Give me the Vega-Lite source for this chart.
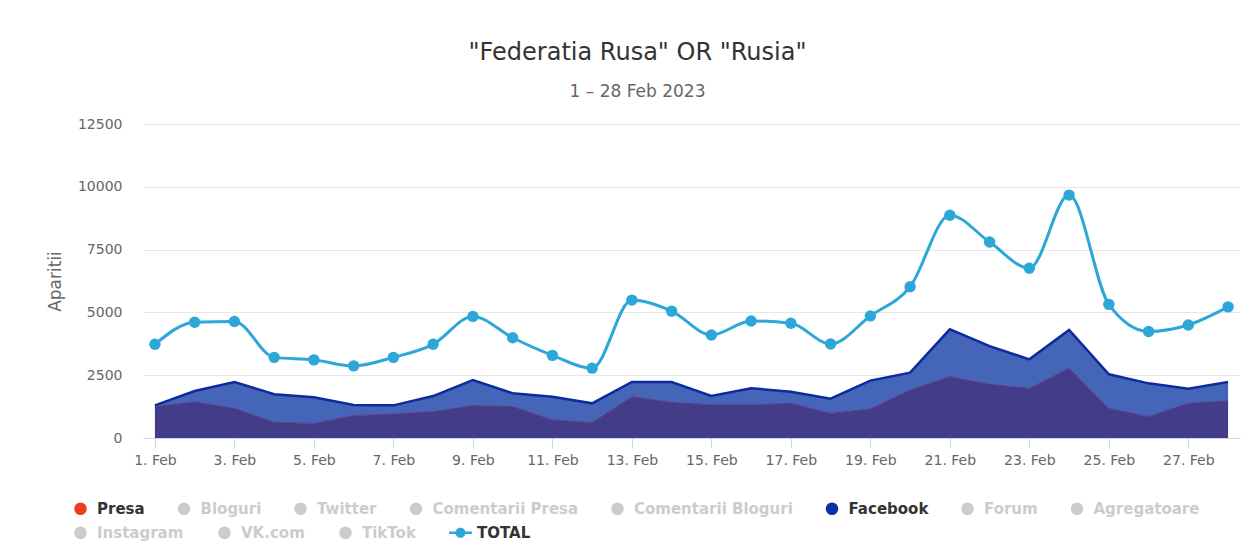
{
  "$schema": "https://vega.github.io/schema/vega-lite/v6.json",
  "width": 1097,
  "height": 314,
  "autosize": {"type": "none"},
  "padding": {"left": 143, "top": 124, "right": 8, "bottom": 103},
  "background": "white",
  "title": {
    "text": "\"Federatia Rusa\" OR \"Rusia\"",
    "subtitle": "1 – 28 Feb 2023",
    "anchor": "middle",
    "frame": "group",
    "dx": -54,
    "offset": 17,
    "font": "DejaVu Sans",
    "fontSize": 24,
    "fontWeight": "normal",
    "color": "#333333",
    "subtitleFont": "DejaVu Sans",
    "subtitleFontSize": 17,
    "subtitleColor": "#666666",
    "subtitlePadding": 19
  },
  "config": {
    "view": {"stroke": null},
    "axis": {"labelFont": "DejaVu Sans", "titleFont": "DejaVu Sans", "labelColor": "#666666", "titleColor": "#666666"}
  },
  "resolve": {"scale": {"color": "independent", "shape": "independent"}},
  "data": {
    "values": [
      {"day": 1, "Presa": 1250, "Facebook": 50, "TOTAL": 3730},
      {"day": 2, "Presa": 1430, "Facebook": 440, "TOTAL": 4610},
      {"day": 3, "Presa": 1180, "Facebook": 1050, "TOTAL": 4640},
      {"day": 4, "Presa": 620, "Facebook": 1120, "TOTAL": 3210},
      {"day": 5, "Presa": 580, "Facebook": 1040, "TOTAL": 3110},
      {"day": 6, "Presa": 890, "Facebook": 425, "TOTAL": 2870},
      {"day": 7, "Presa": 955, "Facebook": 345, "TOTAL": 3210},
      {"day": 8, "Presa": 1050, "Facebook": 620, "TOTAL": 3730},
      {"day": 9, "Presa": 1290, "Facebook": 1020, "TOTAL": 4840},
      {"day": 10, "Presa": 1250, "Facebook": 530, "TOTAL": 3990},
      {"day": 11, "Presa": 720, "Facebook": 925, "TOTAL": 3290},
      {"day": 12, "Presa": 610, "Facebook": 770, "TOTAL": 2780},
      {"day": 13, "Presa": 1645, "Facebook": 585, "TOTAL": 5490},
      {"day": 14, "Presa": 1420, "Facebook": 810, "TOTAL": 5050},
      {"day": 15, "Presa": 1315, "Facebook": 360, "TOTAL": 4100},
      {"day": 16, "Presa": 1315, "Facebook": 665, "TOTAL": 4660},
      {"day": 17, "Presa": 1380, "Facebook": 465, "TOTAL": 4570},
      {"day": 18, "Presa": 980, "Facebook": 585, "TOTAL": 3740},
      {"day": 19, "Presa": 1155, "Facebook": 1130, "TOTAL": 4860},
      {"day": 20, "Presa": 1910, "Facebook": 690, "TOTAL": 6020},
      {"day": 21, "Presa": 2440, "Facebook": 1885, "TOTAL": 8870},
      {"day": 22, "Presa": 2135, "Facebook": 1525, "TOTAL": 7800},
      {"day": 23, "Presa": 1975, "Facebook": 1155, "TOTAL": 6760},
      {"day": 24, "Presa": 2775, "Facebook": 1525, "TOTAL": 9670},
      {"day": 25, "Presa": 1180, "Facebook": 1355, "TOTAL": 5320},
      {"day": 26, "Presa": 850, "Facebook": 1325, "TOTAL": 4240},
      {"day": 27, "Presa": 1380, "Facebook": 585, "TOTAL": 4500},
      {"day": 28, "Presa": 1475, "Facebook": 755, "TOTAL": 5220}
    ]
  },
  "layer": [
    {
      "transform": [{"fold": ["Presa", "Facebook"], "as": ["series", "value"]}],
      "mark": {"type": "area", "opacity": 1},
      "encoding": {
        "x": {
          "field": "day", "type": "quantitative",
          "scale": {"domain": [0.7, 28.3], "nice": false, "zero": false},
          "axis": {
            "title": null, "grid": false,
            "values": [1, 3, 5, 7, 9, 11, 13, 15, 17, 19, 21, 23, 25, 27],
            "labelExpr": "datum.value + '. Feb'",
            "domainColor": "#ccd6eb", "tickColor": "#ccd6eb", "tickSize": 10,
            "labelFontSize": 14, "labelPadding": 5
          }
        },
        "y": {
          "field": "value", "type": "quantitative", "stack": "zero",
          "scale": {"domain": [0, 12500], "nice": false},
          "axis": {
            "title": "Aparitii", "values": [0, 2500, 5000, 7500, 10000, 12500], "format": "d",
            "domain": false, "ticks": false, "gridColor": "#e6e6e6",
            "labelFontSize": 14, "labelPadding": 21,
            "titleFontSize": 17, "titleFontWeight": "normal", "titlePadding": 13
          }
        },
        "fill": {"field": "series", "type": "nominal", "scale": {"domain": ["Presa", "Facebook"], "range": ["#433c89", "#4565b8"]}, "legend": null},
        "order": {"field": "series", "sort": "descending"}
      }
    },
    {
      "transform": [{"fold": ["Presa", "Facebook"], "as": ["series", "value"]}],
      "mark": {"type": "line"},
      "encoding": {
        "x": {"field": "day", "type": "quantitative"},
        "y": {"field": "value", "type": "quantitative", "stack": "zero", "title": "Aparitii"},
        "stroke": {"field": "series", "type": "nominal", "scale": {"domain": ["Presa", "Facebook"], "range": ["#5c3a84", "#0c2b9e"]}, "legend": null},
        "strokeWidth": {"field": "series", "type": "nominal", "scale": {"domain": ["Presa", "Facebook"], "range": [1, 2.5]}, "legend": null},
        "order": {"field": "series", "sort": "descending"}
      }
    },
    {
      "mark": {"type": "line", "interpolate": "monotone", "color": "#2ca7d8", "strokeWidth": 3},
      "encoding": {
        "x": {"field": "day", "type": "quantitative"},
        "y": {"field": "TOTAL", "type": "quantitative", "title": "Aparitii"}
      }
    },
    {
      "mark": {"type": "point", "filled": true, "size": 130, "color": "#2ca7d8", "opacity": 1},
      "encoding": {
        "x": {"field": "day", "type": "quantitative"},
        "y": {"field": "TOTAL", "type": "quantitative", "title": "Aparitii"}
      }
    },
    {
      "data": {"values": [
        {"name": "Presa"}, {"name": "Bloguri"}, {"name": "Twitter"}, {"name": "Comentarii Presa"},
        {"name": "Comentarii Bloguri"}, {"name": "Facebook"}, {"name": "Forum"}, {"name": "Agregatoare"}
      ]},
      "mark": {"type": "point", "filled": true, "opacity": 0},
      "encoding": {
        "color": {
          "field": "name", "type": "nominal",
          "scale": {
            "domain": ["Presa", "Bloguri", "Twitter", "Comentarii Presa", "Comentarii Bloguri", "Facebook", "Forum", "Agregatoare"],
            "range": ["#f03c1e", "#cccccc", "#cccccc", "#cccccc", "#cccccc", "#0a2fa6", "#cccccc", "#cccccc"]
          },
          "legend": {
            "title": null, "orient": "none", "legendX": -70, "legendY": 377,
            "direction": "horizontal", "columns": 8,
            "symbolType": "circle", "symbolSize": 160, "symbolOpacity": 1, "symbolStrokeWidth": 0,
            "labelFont": "DejaVu Sans", "labelFontSize": 15, "labelFontWeight": "bold",
            "labelOffset": 9, "columnPadding": 31.5, "labelLimit": 400, "symbolLimit": 0,
            "encode": {"labels": {"update": {"fill": {"signal": "indexof(['Presa','Facebook'], datum.value) >= 0 ? '#333333' : '#cccccc'"}}}}
          }
        }
      }
    },
    {
      "data": {"values": [
        {"item": "Instagram"}, {"item": "VK.com"}, {"item": "TikTok"}, {"item": "TOTAL"}
      ]},
      "mark": {"type": "point", "filled": true, "opacity": 0},
      "encoding": {
        "color": {
          "field": "item", "type": "nominal",
          "scale": {
            "domain": ["Instagram", "VK.com", "TikTok", "TOTAL"],
            "range": ["#cccccc", "#cccccc", "#cccccc", "#2ca7d8"]
          },
          "legend": {
            "title": null, "orient": "none", "legendX": -70, "legendY": 401,
            "direction": "horizontal", "columns": 4,
            "symbolSize": 160, "symbolOpacity": 1, "symbolStrokeWidth": 0,
            "labelFont": "DejaVu Sans", "labelFontSize": 15, "labelFontWeight": "bold",
            "labelOffset": 9, "columnPadding": 33, "labelLimit": 400, "symbolLimit": 0,
            "encode": {"labels": {"update": {"fill": {"signal": "datum.value === 'TOTAL' ? '#333333' : '#cccccc'"}}}}
          }
        },
        "shape": {
          "field": "item", "type": "nominal",
          "scale": {
            "domain": ["Instagram", "VK.com", "TikTok", "TOTAL"],
            "range": ["circle", "circle", "circle", "M-1.8,-0.2L1.8,-0.2L1.8,0.2L-1.8,0.2Z M-0.8,0A0.8,0.8 0 1,1 0.8,0A0.8,0.8 0 1,1 -0.8,0Z"]
          }
        }
      }
    }
  ]
}
